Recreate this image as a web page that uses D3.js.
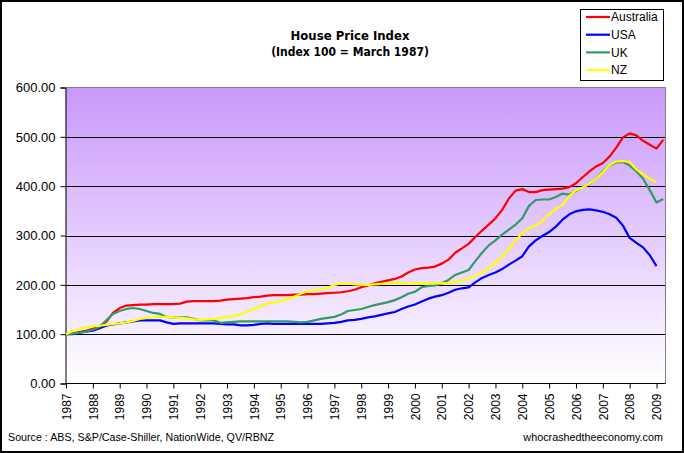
<!DOCTYPE html>
<html><head><meta charset="utf-8">
<script src="https://cdn.jsdelivr.net/npm/d3@7"></script>
<style>body{margin:0;background:#fff} svg{display:block}</style>
</head><body>
<svg id="c" width="684" height="453"></svg>
<script>
// Quarterly index values, first value = March 1987 (index 100)
const firstQuarterYear = 1987;
const australia = [100,101,104,107,111,116,125,143,153,158,159,160,160,161,161,161,161,162,166,167,167,167,167,168,170,171,172,173,175,176,178,179,179,179,180,180,181,181,182,183,184,185,187,190,195,199,203,206,209,212,217,225,231,234,235,237,243,251,265,274,283,297,310,322,335,352,375,391,394,388,388,392,393,394,395,398,406,418,430,440,447,460,478,499,507,503,492,484,476,494];
const usa = [100,100,103,105,107,112,117,120,122,124,126,128,128,128,128,124,121,122,122,122,122,122,122,121,120,120,118,118,119,121,122,121,121,121,121,121,121,121,121,122,123,125,128,129,131,134,136,139,142,145,151,156,160,166,172,176,179,184,190,193,195,205,214,220,225,232,241,249,258,278,290,299,307,318,332,343,349,352,353,351,348,343,336,320,295,285,276,260,238];
const uk = [100,101,103,105,109,115,128,141,147,151,153,151,147,143,141,135,134,134,134,131,128,128,128,123,124,125,126,126,126,126,126,126,126,126,125,124,125,128,131,133,135,140,147,149,151,155,159,162,165,169,175,182,186,195,198,199,203,210,220,225,230,248,265,280,290,302,312,322,335,360,372,373,373,378,385,383,390,398,404,415,430,442,448,449,442,430,415,392,367,374];
const nz = [100,107,110,114,116,117,119,121,122,124,127,131,133,134,135,135,134,133,132,130,129,130,131,133,135,137,140,146,151,157,162,165,167,171,176,182,187,189,191,194,200,203,203,201,200,200,201,202,203,204,204,203,203,203,203,203,203,204,206,209,213,218,225,234,245,258,273,290,305,315,320,330,343,354,362,380,392,397,405,415,428,443,450,451,449,434,424,415,408];

const seriesNames = ["Australia", "USA", "UK", "NZ"];
const seriesValues = [australia, usa, uk, nz];
const seriesColors = ["#FF0000", "#0000FF", "#339966", "#FFFF00"];
const yearTicks = [1987,1988,1989,1990,1991,1992,1993,1994,1995,1996,1997,1998,1999,2000,2001,2002,2003,2004,2005,2006,2007,2008,2009];
const valueTicks = [0, 100, 200, 300, 400, 500, 600];
const titleText = "House Price Index";
const subtitleText = "(Index 100 = March 1987)";
const sourceText = "Source : ABS, S&P/Case-Shiller, NationWide, QV/RBNZ";
const siteText = "whocrashedtheeconomy.com";

const svg = d3.select("#c");
const W = 684, H = 453;
const plot = {left: 65.5, right: 665.5, top: 87.5, bottom: 383.5};

svg.append("rect").attr("x", 1).attr("y", 1).attr("width", W - 2).attr("height", H - 2)
  .attr("fill", "#fff").attr("stroke", "#000").attr("stroke-width", 2);

const x = d3.scaleLinear().domain([1987, 2009]).range([66, 656.5]);
const y = d3.scaleLinear().domain([0, 600]).range([plot.bottom, plot.top]);

const defs = svg.append("defs");
const grad = defs.append("linearGradient").attr("id", "bg").attr("x1", 0).attr("y1", 0).attr("x2", 0).attr("y2", 1);
grad.append("stop").attr("offset", "0%").attr("stop-color", "#C999FB");
grad.append("stop").attr("offset", "100%").attr("stop-color", "#FFFFFF");

svg.append("rect").attr("x", plot.left).attr("y", plot.top)
  .attr("width", plot.right - plot.left).attr("height", plot.bottom - plot.top)
  .attr("fill", "url(#bg)");

// gridlines
svg.append("g").selectAll("line").data(valueTicks.filter(v => v > 0 && v < 600)).join("line")
  .attr("x1", plot.left).attr("x2", plot.right)
  .attr("y1", d => Math.round(y(d)) + 0.5).attr("y2", d => Math.round(y(d)) + 0.5)
  .attr("stroke", "#000").attr("stroke-width", 1);

// plot border top/right
svg.append("path")
  .attr("d", `M${plot.left},${plot.top}H${plot.right}V${plot.bottom}`)
  .attr("fill", "none").attr("stroke", "#808080").attr("stroke-width", 1);

// axes
const yAxis = svg.append("g").attr("transform", `translate(${plot.left},0)`)
  .call(d3.axisLeft(y).tickValues(valueTicks).tickSize(5).tickPadding(5).tickFormat(d3.format(".2f")));
yAxis.selectAll("text").attr("font-family", "'Liberation Sans', Arial, sans-serif").attr("font-size", 13).attr("fill", "#000");
yAxis.selectAll("line,path").attr("stroke", "#000");

const xAxis = svg.append("g").attr("transform", `translate(0,${plot.bottom})`)
  .call(d3.axisBottom(x).tickValues(yearTicks).tickSize(5).tickFormat(d => String(d)));
xAxis.select("path.domain").attr("d", `M${plot.left},0H${plot.right}`).attr("stroke", "#000");
xAxis.selectAll("line").attr("stroke", "#000");
xAxis.selectAll("text")
  .attr("font-family", "'Liberation Sans', Arial, sans-serif").attr("font-size", 12).attr("fill", "#000")
  .attr("transform", "rotate(-90)").attr("text-anchor", "end")
  .attr("x", -10).attr("y", 0).attr("dy", "0.35em");

// lines
const line = d3.line().x((d, i) => x(firstQuarterYear + i / 4)).y(d => y(d));
svg.append("g").selectAll("path").data(seriesValues).join("path")
  .attr("d", d => line(d))
  .attr("fill", "none")
  .attr("stroke", (d, i) => seriesColors[i])
  .attr("stroke-width", 2.2)
  .attr("stroke-linejoin", "round");

// titles
svg.append("text").attr("x", 350).attr("y", 40).attr("text-anchor", "middle")
  .attr("font-family", "'DejaVu Sans Condensed', 'DejaVu Sans', sans-serif").attr("font-stretch", "condensed")
  .attr("font-weight", "bold").attr("font-size", 13).text(titleText);
svg.append("text").attr("x", 350).attr("y", 56).attr("text-anchor", "middle")
  .attr("font-family", "'DejaVu Sans Condensed', 'DejaVu Sans', sans-serif").attr("font-stretch", "condensed")
  .attr("font-weight", "bold").attr("font-size", 12).text(subtitleText);

// legend
const lg = svg.append("g");
lg.append("rect").attr("x", 580.5).attr("y", 9.5).attr("width", 83).attr("height", 71)
  .attr("fill", "#fff").attr("stroke", "#000").attr("stroke-width", 1);
const items = lg.selectAll("g.item").data(seriesNames).join("g").attr("class", "item")
  .attr("transform", (d, i) => `translate(0,${17 + i * 17.7})`);
items.append("line").attr("x1", 586).attr("x2", 610).attr("y1", 0).attr("y2", 0)
  .attr("stroke", (d, i) => seriesColors[i]).attr("stroke-width", 2.2);
items.append("text").attr("x", 611).attr("y", 0).attr("dy", "0.35em")
  .attr("font-family", "'Liberation Sans', Arial, sans-serif").attr("font-size", 12).text(d => d);

// footer
svg.append("text").attr("x", 8).attr("y", 441)
  .attr("font-family", "'Liberation Sans', Arial, sans-serif").attr("font-size", 10.7).text(sourceText);
svg.append("text").attr("x", 663).attr("y", 441).attr("text-anchor", "end")
  .attr("font-family", "'Liberation Sans', Arial, sans-serif").attr("font-size", 10.8).text(siteText);
</script>
</body></html>
